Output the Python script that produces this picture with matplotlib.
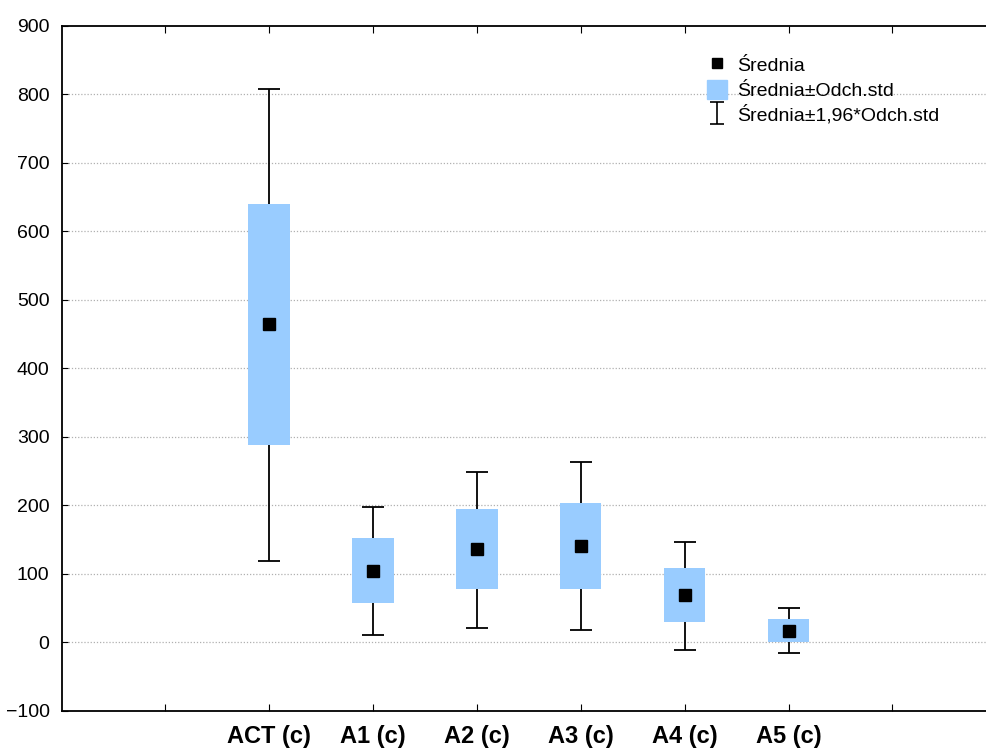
import matplotlib
matplotlib.use("Agg")
import matplotlib.pyplot as plt
import matplotlib.patches as mpatches
from matplotlib.path import Path
import numpy as np

plt.rcParams['font.family'] = ['Liberation Sans', 'DejaVu Sans']

# Dane
kategorie = ['ACT (c)', 'A1 (c)', 'A2 (c)', 'A3 (c)', 'A4 (c)', 'A5 (c)']
srednia = [464, 104, 136, 141, 69, 17]
box_dol = [288, 57, 78, 78, 29, 0]        # średnia - odch.std
box_gora = [640, 152, 195, 204, 109, 34]  # średnia + odch.std
was_dol = [118, 11, 21, 18, -11, -16]     # średnia - 1,96*odch.std
was_gora = [808, 197, 249, 263, 147, 50]  # średnia + 1,96*odch.std

x = np.arange(1, len(kategorie) + 1)
srednia = np.array(srednia)

fig = plt.figure(figsize=(9.86, 7.53), dpi=100)
ax = fig.add_axes([0.063, 0.056, 0.937, 0.91])

niebieski = '#99ccff'

# wąsy (średnia ± 1,96*odch.std)
ax.errorbar(x, srednia,
            yerr=[srednia - np.array(was_dol), np.array(was_gora) - srednia],
            fmt='none', ecolor='black', elinewidth=1.3, capsize=8,
            capthick=1.3, zorder=2)

# pudełka (średnia ± odch.std)
ax.bar(x, np.array(box_gora) - np.array(box_dol), bottom=box_dol, width=0.4,
       color=niebieski, edgecolor='none', zorder=3)

# średnie
ax.plot(x, srednia, 's', color='black', ms=8.5, ls='none', zorder=4)

ax.set_xlim(-0.99, 7.9)
ax.set_ylim(-100, 900)
ax.set_xticks(np.arange(0, 8))
ax.set_xticklabels([''] + kategorie + [''], fontsize=17, fontweight='bold')
ax.set_yticks(np.arange(-100, 901, 100))
ax.tick_params(axis='y', direction='in', length=4, labelsize=14, pad=9)
ax.tick_params(axis='x', direction='in', length=5, pad=10, top=True)

for y in range(0, 900, 100):
    ax.axhline(y, color='#b0b0b0', ls=(0, (1, 1.5)), lw=0.9, zorder=1)

ax.spines['right'].set_visible(False)
for s in ['left', 'bottom', 'top']:
    ax.spines[s].set_linewidth(1.3)

# symbol "I" do legendy
znak_i = Path([(-0.6, -1), (0.6, -1), (0, -1), (0, 1), (-0.6, 1), (0.6, 1)],
              [Path.MOVETO, Path.LINETO, Path.MOVETO, Path.LINETO,
               Path.MOVETO, Path.LINETO])
h_mean = plt.Line2D([], [], marker='s', color='black', ls='none', ms=7)
h_box = mpatches.Patch(color=niebieski)
h_was = plt.Line2D([], [], marker=znak_i, color='black', ls='none', ms=16,
                   mfc='none', mew=1.2)
leg = ax.legend([h_mean, h_box, h_was],
                ['Średnia', 'Średnia±Odch.std', 'Średnia±1,96*Odch.std'],
                loc='upper left', bbox_to_anchor=(0.69, 0.968), frameon=False,
                fontsize=14, handlelength=1.0, handleheight=1.1,
                handletextpad=0.55, labelspacing=0.25, borderaxespad=0)

fig.savefig('out.png', dpi=100)
